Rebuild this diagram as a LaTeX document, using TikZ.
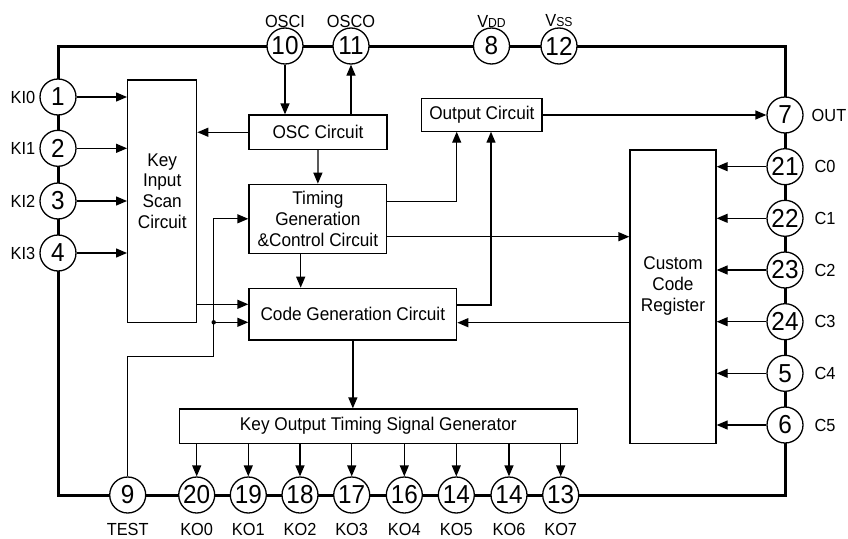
\documentclass[tikz,border=0pt]{standalone}
\usepackage{fontspec}
\setmainfont[FakeStretch=0.935]{Liberation Sans}
\usetikzlibrary{arrows.meta,calc}
\begin{document}
\begin{tikzpicture}[x=1pt,y=-1pt,
  frame/.style={line width=3pt},
  arr/.style={line width=1.3pt,-{Triangle[length=11pt,width=9pt]}},
  pinc/.style={circle,draw,fill=white,line width=1.3pt,minimum size=36pt,inner sep=0pt,font=\fontsize{26}{26}\selectfont},
  blk/.style={draw,line width=1.3pt,inner sep=0pt},
  txt/.style={font=\fontsize{18.4}{20.8}\selectfont,align=center,inner sep=0pt},
  plab/.style={font=\fontsize{17.5}{17.5}\selectfont,inner sep=0pt}
]
\useasboundingbox (0,0) rectangle (848,538);
% frame
\coordinate (tl) at (58,46);
\coordinate (br) at (785,495);
\draw[frame] (tl) rectangle (br);

% blocks
\node[blk,minimum width=69,minimum height=242.7] (kis) at (162.2,201.35) {};
\node[txt] at (162.2,191) {Key\\Input\\Scan\\Circuit};
\node[blk,minimum width=138,minimum height=34.5,txt] (osc) at (318,132.25) {OSC Circuit};
\node[blk,minimum width=120.3,minimum height=33.4,txt] (outc) at (481.85,115) {Output Circuit};
\node[blk,minimum width=137.7,minimum height=69,txt] (tim) at (317.85,218.8) {Timing\\Generation\\\&Control Circuit};
\node[blk,minimum width=207.7,minimum height=51.7,txt] (cgc) at (352.85,314.15) {Code Generation Circuit};
\node[blk,minimum width=398,minimum height=34.3,txt] (kot) at (378.3,426.15) {Key Output Timing Signal Generator};
\node[blk,minimum width=86,minimum height=293.3] (ccr) at (673,296.65) {};
\node[txt] at (673,285.7) {Custom\\Code\\Register};

% pins
\node[pinc] (p10) at (285,46) {10};
\node[pinc] (p11) at (351,46) {11};
\node[pinc] (p8) at (491.5,46) {8};
\node[pinc] (p12) at (559,46) {12};
\node[pinc] (p1) at (58,97) {1};
\node[pinc] (p2) at (58,148.3) {2};
\node[pinc] (p3) at (58,201) {3};
\node[pinc] (p4) at (58,253) {4};
\node[pinc] (p7) at (785,115) {7};
\node[pinc] (p21) at (785,166.7) {21};
\node[pinc] (p22) at (785,218.3) {22};
\node[pinc] (p23) at (785,270) {23};
\node[pinc] (p24) at (785,321.7) {24};
\node[pinc] (p5) at (785,373.3) {5};
\node[pinc] (p6) at (785,425) {6};
\node[pinc] (p9) at (127.7,495) {9};
\node[pinc] (p20) at (196.7,495) {20};
\node[pinc] (p19) at (248.3,495) {19};
\node[pinc] (p18) at (300,495) {18};
\node[pinc] (p17) at (351.7,495) {17};
\node[pinc] (p16) at (404.3,495) {16};
\node[pinc] (p14a) at (456.3,495) {14};
\node[pinc] (p14b) at (509,495) {14};
\node[pinc] (p13) at (560.7,495) {13};

% pin labels
\node[plab] at (285,21) {OSCI};
\node[plab] at (351,21) {OSCO};
\node[plab] at (491.5,21) {V{\fontsize{13}{13}\selectfont DD}};
\node[plab] at (559,21) {V{\fontsize{13}{13}\selectfont SS}};
\node[plab] at (23,97) {KI0};
\node[plab] at (23,148.3) {KI1};
\node[plab] at (23,201) {KI2};
\node[plab] at (23,253) {KI3};
\node[plab] at (829,115) {OUT};
\node[plab] at (825,166.7) {C0};
\node[plab] at (825,218.3) {C1};
\node[plab] at (825,270) {C2};
\node[plab] at (825,321.7) {C3};
\node[plab] at (825,373.3) {C4};
\node[plab] at (825,425) {C5};
\node[plab] at (127.7,529) {TEST};
\node[plab] at (196.7,529) {KO0};
\node[plab] at (248.3,529) {KO1};
\node[plab] at (300,529) {KO2};
\node[plab] at (351.7,529) {KO3};
\node[plab] at (404.3,529) {KO4};
\node[plab] at (456.3,529) {KO5};
\node[plab] at (509,529) {KO6};
\node[plab] at (560.7,529) {KO7};

% helper coordinates
\coordinate (ya) at (0,201.7);
\coordinate (yb) at (0,305);
\coordinate (yc) at (0,236.7);
\coordinate (yd) at (0,322.7);
\coordinate (ye) at (0,304.3);
\coordinate (xa) at (300.7,0);
\coordinate (oin1) at (456.7,131.7);
\coordinate (oin2) at (491,131.7);
\coordinate (j1) at (213.7,356.7);
\coordinate (dot) at (213.7,322.3);

% key inputs
\foreach \p in {p1,p2,p3,p4}
  \draw[arr] (\p.east) -- (\p.east -| kis.west);
% custom code inputs
\foreach \p in {p21,p22,p23,p24,p5,p6}
  \draw[arr] (\p.west) -- (\p.west -| ccr.east);
% key outputs
\foreach \p in {p20,p19,p18,p17,p16,p14a,p14b,p13}
  \draw[arr] (kot.south -| \p) -- (\p.north);

% oscillator
\draw[arr] (p10.south) -- (p10.south |- osc.north);
\draw[arr] (osc.north -| p11) -- (p11.south);
\draw[arr] (osc.west) -- (osc.west -| kis.east);
\draw[arr] (osc.south) -- (tim.north);

% timing
\draw[arr] (tim.east |- ya) -| (oin1);
\draw[arr] (tim.east |- yc) -- (ccr.west |- yc);
\draw[arr] (xa |- tim.south) -- (xa |- cgc.north);

% code generation
\draw[arr] (cgc.east |- yb) -| (oin2);
\draw[arr] (ccr.west |- yd) -- (cgc.east |- yd);
\draw[arr] (kis.east |- ye) -- (cgc.west |- ye);
\draw[arr] (cgc.south) -- (cgc.south |- kot.north);

% output
\draw[arr] (outc.east) -- (p7.west);

% test
\draw[arr] (p9.north) |- (j1) |- (tim.west);
\fill (dot) circle (2.2);
\draw[arr] (dot) -- (dot -| cgc.west);
\end{tikzpicture}
\end{document}
